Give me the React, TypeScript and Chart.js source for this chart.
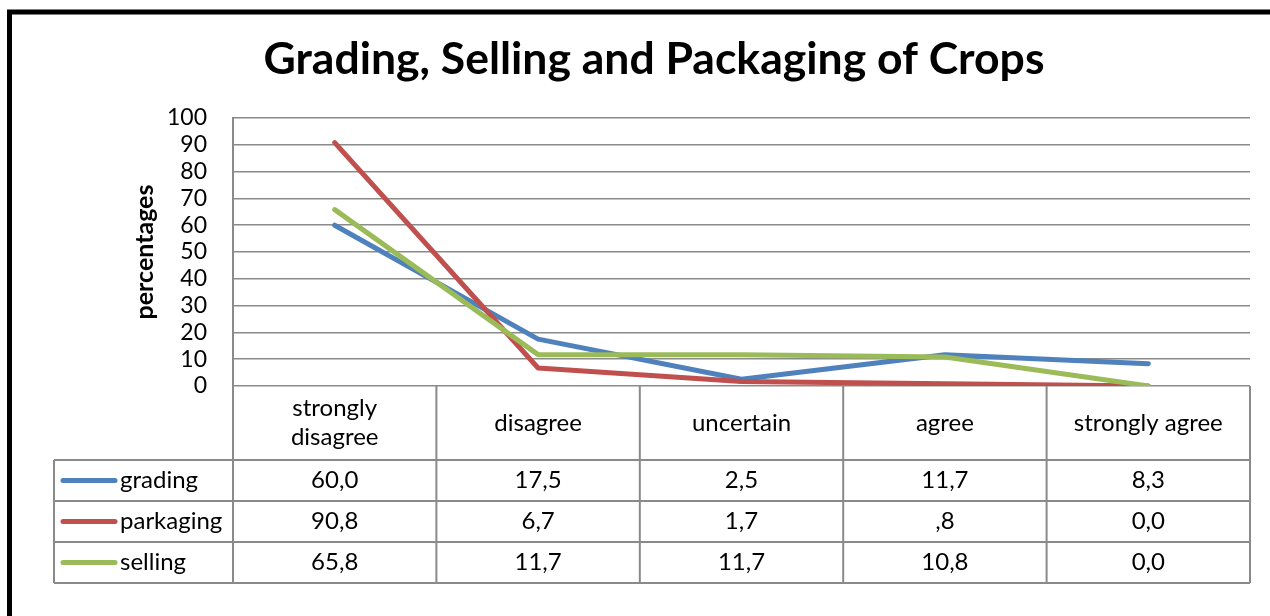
import React, { useEffect, useRef } from "react";
import { Chart, registerables } from "chart.js";

Chart.register(...registerables);

const categories: (string | string[])[] = [
  ["strongly", "disagree"],
  "disagree",
  "uncertain",
  "agree",
  "strongly agree",
];
const gradingValues = [60.0, 17.5, 2.5, 11.7, 8.3];
const packagingValues = [90.8, 6.7, 1.7, 0.8, 0.0];
const sellingValues = [65.8, 11.7, 11.7, 10.8, 0.0];
const seriesNames = ["grading", "parkaging", "selling"];
const seriesColors = ["#4F81BD", "#C0504D", "#9BBB59"];
const yTicks = [0, 10, 20, 30, 40, 50, 60, 70, 80, 90, 100];
const titleText = "Grading, Selling and Packaging of Crops";
const yTitle = "percentages";

const FONT = "Lato, 'Open Sans', sans-serif";
const GRID = "#8a8a8a";

function fmt(v: number): string {
  let s = v.toFixed(1).replace(".", ",");
  if (v !== 0 && Math.abs(v) < 1) s = s.replace(/^0/, "");
  return s;
}

const tablePlugin = {
  id: "tablePlugin",
  afterDraw(chart: any) {
    const ctx = chart.ctx as CanvasRenderingContext2D;
    const area = chart.chartArea;
    const xs = chart.scales.x;
    const n = categories.length;
    const centers = categories.map((_, i) => xs.getPixelForValue(i));
    const bounds: number[] = [area.left];
    for (let i = 0; i < n - 1; i++) bounds.push((centers[i] + centers[i + 1]) / 2);
    bounds.push(area.right);

    const headerTop = area.bottom;
    const headerBottom = headerTop + 74;
    const rowH = 41;
    const legendLeft = 54;
    const rows = [gradingValues, packagingValues, sellingValues];
    const tableBottom = headerBottom + rowH * rows.length;

    ctx.save();
    // black outer border (cropped frame)
    ctx.strokeStyle = "#000";
    ctx.lineWidth = 5;
    ctx.beginPath();
    ctx.moveTo(9.5, 616);
    ctx.lineTo(9.5, 12);
    ctx.lineTo(1270, 12);
    ctx.stroke();

    // title
    ctx.fillStyle = "#000";
    ctx.font = `bold 44.5px ${FONT}`;
    ctx.textAlign = "center";
    ctx.textBaseline = "middle";
    ctx.fillText(titleText, 654, 60);

    // grid lines of table
    ctx.strokeStyle = GRID;
    ctx.lineWidth = 2;
    ctx.beginPath();
    bounds.forEach((b) => {
      ctx.moveTo(b, headerTop);
      ctx.lineTo(b, tableBottom);
    });
    ctx.moveTo(legendLeft, headerBottom);
    ctx.lineTo(legendLeft, tableBottom);
    for (let r = 0; r <= rows.length; r++) {
      const y = headerBottom + r * rowH;
      ctx.moveTo(legendLeft, y);
      ctx.lineTo(area.right, y);
    }
    ctx.stroke();

    // header labels
    ctx.fillStyle = "#000";
    ctx.font = `24px ${FONT}`;
    ctx.textAlign = "center";
    ctx.textBaseline = "middle";
    const mid = (headerTop + headerBottom) / 2;
    categories.forEach((c, i) => {
      const lines = Array.isArray(c) ? c : [c];
      const lh = 29;
      lines.forEach((ln, k) => {
        ctx.fillText(ln, centers[i], mid + (k - (lines.length - 1) / 2) * lh);
      });
    });

    // rows
    rows.forEach((vals, r) => {
      const cy = headerBottom + r * rowH + rowH / 2;
      ctx.strokeStyle = seriesColors[r];
      ctx.lineWidth = 5;
      ctx.lineCap = "round";
      ctx.beginPath();
      ctx.moveTo(63, cy);
      ctx.lineTo(115, cy);
      ctx.stroke();
      ctx.fillStyle = "#000";
      ctx.textAlign = "left";
      ctx.fillText(seriesNames[r], 120, cy);
      ctx.textAlign = "center";
      vals.forEach((v, i) => ctx.fillText(fmt(v), centers[i], cy));
    });
    ctx.restore();
  },
};

export default function App() {
  const ref = useRef<HTMLCanvasElement | null>(null);
  useEffect(() => {
    if (!ref.current) return;
    const chart = new Chart(ref.current, {
      type: "line",
      data: {
        labels: categories as any,
        datasets: [gradingValues, packagingValues, sellingValues].map((d, i) => ({
          label: seriesNames[i],
          data: d,
          borderColor: seriesColors[i],
          backgroundColor: seriesColors[i],
          borderWidth: 5,
          pointRadius: 0,
          tension: 0,
          borderCapStyle: "round" as const,
          borderJoinStyle: "round" as const,
          order: 3 - i,
        })),
      },
      options: {
        animation: false,
        responsive: false,
        layout: { padding: { top: 118, right: 20, left: 0, bottom: 0 } },
        plugins: { legend: { display: false }, title: { display: false }, tooltip: { enabled: false } },
        scales: {
          x: {
            type: "category",
            offset: true,
            ticks: { display: false },
            grid: { display: false },
            border: { display: false },
            afterFit: (s: any) => {
              s.height = 230;
            },
          },
          y: {
            min: 0,
            max: 100,
            afterBuildTicks: (s: any) => {
              s.ticks = yTicks.map((v) => ({ value: v }));
            },
            ticks: {
              padding: 26,
              autoSkip: false,
              color: "#000",
              font: { family: FONT, size: 23 },
            },
            grid: { color: GRID, lineWidth: 1.5, drawTicks: false },
            border: { display: true, color: GRID, width: 2 },
            title: {
              display: true,
              text: yTitle,
              color: "#000",
              font: { family: FONT, size: 25, weight: "bold" },
              padding: { top: 130, bottom: 0 },
            },
            afterFit: (s: any) => {
              s.width = 233;
            },
          },
        },
      },
      plugins: [tablePlugin],
    });
    return () => chart.destroy();
  }, []);
  return (
    <div style={{ position: "fixed", left: 0, top: 0, width: 1270, height: 616, background: "#fff" }}>
      <canvas ref={ref} width={1270} height={616} style={{ display: "block" }} />
    </div>
  );
}
